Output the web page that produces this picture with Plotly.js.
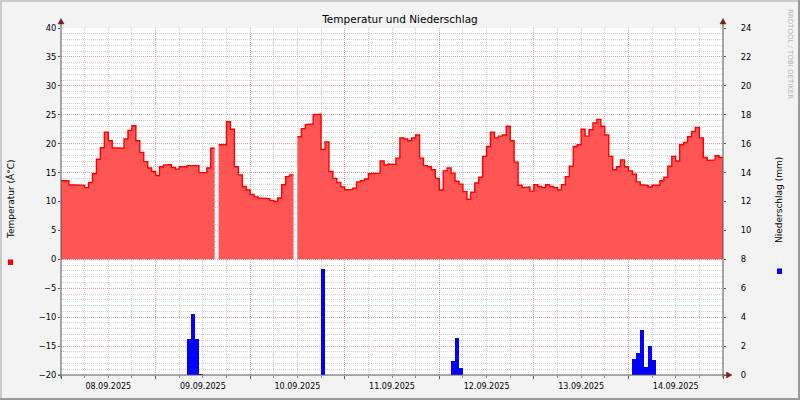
<!DOCTYPE html>
<html>
<head>
<meta charset="utf-8">
<script src="https://cdn.plot.ly/plotly-3.0.1.min.js"></script>
<style>html,body{margin:0;padding:0;background:#f3f3f3;}#chart{width:800px;height:400px;}</style>
</head>
<body>
<div id="chart"></div>
<script>
// ---- data (hourly temperature, °C; null = no data) ----
const startTime = '2025-09-08 00:00';
const temp_0809 = [13.6, 13.6, 12.9, 12.8, 12.8, 12.8, 12.4, 13.3, 14.8, 17.3, 19.3, 22.0, 20.5, 19.3, 19.3, 19.2, 20.8, 22.3, 23.1, 20.5, 18.5, 16.9, 15.8, 15.2];
const temp_0909 = [14.5, 16.0, 16.3, 16.4, 15.9, 15.6, 16.0, 16.0, 16.2, 16.2, 16.2, 15.0, 15.0, 15.8, 19.2, null, 19.8, 19.8, 23.8, 22.5, 16.0, 14.6, 12.6, 12.0];
const temp_1009 = [11.2, 10.8, 10.6, 10.5, 10.5, 10.2, 10.0, 10.6, 12.9, 14.3, 14.6, null, 21.2, 22.6, 23.3, 23.4, 25.0, 25.1, 19.0, 20.3, 15.2, 14.0, 13.3, 12.5];
const temp_1109 = [12.0, 12.1, 12.3, 13.4, 13.6, 13.9, 14.8, 14.8, 14.9, 17.0, 16.3, 16.5, 16.4, 17.5, 21.0, 20.8, 20.5, 21.0, 21.5, 17.5, 16.2, 16.0, 15.5, 14.0];
const temp_1209 = [12.0, 15.3, 15.8, 14.9, 13.5, 13.0, 11.7, 10.4, 11.6, 13.2, 14.2, 17.8, 19.5, 22.0, 21.0, 21.3, 21.5, 23.0, 20.5, 16.8, 12.8, 12.4, 12.5, 11.8];
const temp_1309 = [12.9, 12.6, 12.4, 12.9, 12.6, 12.4, 12.0, 12.9, 14.3, 16.1, 19.5, 19.8, 22.5, 21.3, 22.4, 23.6, 24.2, 23.0, 21.5, 17.8, 15.5, 16.0, 17.2, 16.0];
const temp_1409 = [15.3, 14.7, 13.4, 12.9, 12.8, 12.5, 12.8, 12.8, 13.6, 14.2, 16.1, 17.8, 17.0, 19.8, 20.2, 21.2, 22.1, 22.8, 21.0, 17.6, 17.1, 17.2, 17.9, 17.6];

// ---- data (hourly precipitation, mm; start of the hour) ----
const rainTimes = ['2025-09-09 08:00','2025-09-09 09:00','2025-09-09 10:00','2025-09-09 11:00',
                   '2025-09-10 18:00',
                   '2025-09-12 03:00','2025-09-12 04:00','2025-09-12 05:00',
                   '2025-09-14 01:00','2025-09-14 02:00','2025-09-14 03:00','2025-09-14 04:00','2025-09-14 05:00','2025-09-14 06:00'];
const rainValues = [2.5, 4.2, 2.5, 0.1,
                    7.3,
                    1.0, 2.55, 0.5,
                    1.1, 1.5, 3.1, 0.55, 2.0, 1.05];

const xTickFormat = '%d.%m.%Y';

// ---- build step series, split at gaps ----
const tempValues = [].concat(temp_0809, temp_0909, temp_1009, temp_1109, temp_1209, temp_1309, temp_1409);
const HOUR = 3600000;
const t0 = Date.UTC(2025, 8, 8, 0, 0);
function fmt(ms){
  const d = new Date(ms);
  const p = n => String(n).padStart(2,'0');
  return d.getUTCFullYear()+'-'+p(d.getUTCMonth()+1)+'-'+p(d.getUTCDate())+' '+p(d.getUTCHours())+':'+p(d.getUTCMinutes());
}
const segments = [];
let cur = null;
tempValues.forEach((v,i) => {
  if (v === null) { cur = null; return; }
  if (!cur) { cur = {x: [], y: []}; segments.push(cur); }
  cur.x.push(fmt(t0 + i*HOUR)); cur.y.push(v);
  cur.x.push(fmt(t0 + (i+1)*HOUR)); cur.y.push(v);
});

// ---- geometry helpers (pixel -> paper) ----
const L = 61, R = 723, T = 28, B = 375;
const px = x => (x - L) / (R - L);
const py = y => (B - y) / (B - T);

const FONT = 'DejaVu Sans';
const majorGrid = '#e6a3a3';
const minorGrid = '#cfcfcf';
const axisCol = '#555555';
const arrowCol = '#7a1c1c';

const traces = segments.map(s => ({
  type: 'scatter', mode: 'lines', x: s.x, y: s.y,
  fill: 'tozeroy', fillcolor: '#ff5555',
  line: {color: '#ff0000', width: 1.4, shape: 'linear'},
  hoverinfo: 'skip', showlegend: false
}));
traces.push({
  type: 'bar', x: rainTimes, y: rainValues, yaxis: 'y2',
  width: HOUR, offset: 0,
  marker: {color: '#0000ff', line: {width: 0}},
  hoverinfo: 'skip', showlegend: false
});

function rect(x0,y0,x1,y1,color){
  return {type:'rect', xref:'paper', yref:'paper', x0:px(x0), x1:px(x1), y0:py(y1), y1:py(y0),
          fillcolor:color, line:{width:0}, layer:'above'};
}
function line(x0,y0,x1,y1,color,w){
  return {type:'line', xref:'paper', yref:'paper', x0:px(x0), x1:px(x1), y0:py(y0), y1:py(y1),
          line:{color:color, width:w||1}, layer:'above'};
}
function tri(pts,color){
  const d = 'M ' + pts.map(p => px(p[0]) + ' ' + py(p[1])).join(' L ') + ' Z';
  return {type:'path', xref:'paper', yref:'paper', path:d, fillcolor:color, line:{color:color, width:0.5}, layer:'above'};
}

const shapes = [
  rect(0,0,800,2,'#cbcbcb'),
  rect(0,0,2,400,'#cbcbcb'),
  rect(0,398,800,400,'#9a9a9a'),
  rect(798,0,800,400,'#9a9a9a'),
  line(61,378,61,23,axisCol,1),
  line(723,378,723,23,axisCol,1),
  line(58,375,727,375,axisCol,1),
  tri([[61,18.5],[58,24],[64,24]], arrowCol),
  tri([[723,18.5],[720,24],[726,24]], arrowCol),
  tri([[732,375],[726.5,372],[726.5,378]], arrowCol),
  rect(8,259.5,13,265,'#ff0000'),
  rect(777,268.5,782,274,'#0000ff')
];

const annotations = [
  {xref:'paper', yref:'paper', x:px(10), y:py(199), text:'Temperatur (Â°C)', textangle:-90,
   showarrow:false, font:{family:FONT, size:9, color:'#000'}, xanchor:'center', yanchor:'middle'},
  {xref:'paper', yref:'paper', x:px(779), y:py(200), text:'Niederschlag (mm)', textangle:-90,
   showarrow:false, font:{family:FONT, size:9, color:'#000'}, xanchor:'center', yanchor:'middle'},
  {xref:'paper', yref:'paper', x:px(790), y:py(54), text:'RRDTOOL / TOBI OETIKER', textangle:90,
   showarrow:false, font:{family:FONT, size:7, color:'#b5b5b5'}, xanchor:'center', yanchor:'middle'}
];

const layout = {
  width: 800, height: 400,
  margin: {l: L, r: 800 - R, t: T, b: 400 - B, pad: 0},
  paper_bgcolor: '#f3f3f3', plot_bgcolor: '#ffffff',
  title: {text: 'Temperatur und Niederschlag', x: 0.5, xref: 'container', xanchor: 'center',
          y: 1 - 19/400, yref: 'container', yanchor: 'middle',
          font: {family: FONT, size: 10.5, color: '#000'}},
  xaxis: {
    type: 'date', range: ['2025-09-08 00:00', '2025-09-15 00:00'],
    tick0: '2025-09-08', dtick: 86400000, ticklabelmode: 'period', tickformat: xTickFormat,
    showgrid: true, gridcolor: majorGrid, griddash: '1px,1px', gridwidth: 1,
    ticks: 'outside', ticklen: 3, tickcolor: axisCol,
    minor: {dtick: 21600000, tick0: '2025-09-08', showgrid: true, gridcolor: minorGrid, griddash: '1px,1px',
            ticks: 'outside', ticklen: 2, tickcolor: '#888'},
    showline: false, zeroline: false, fixedrange: true,
    tickfont: {family: FONT, size: 8, color: '#000'}
  },
  yaxis: {
    range: [-20, 40], tick0: 0, dtick: 5,
    showgrid: true, gridcolor: majorGrid, griddash: '1px,1px',
    minor: {dtick: 1, tick0: 0, showgrid: true, gridcolor: minorGrid, griddash: '1px,1px'},
    ticks: 'outside', ticklen: 2, tickcolor: axisCol,
    showline: false, zeroline: false, fixedrange: true,
    tickfont: {family: FONT, size: 8.4, color: '#000'}
  },
  yaxis2: {
    range: [0, 24], tick0: 0, dtick: 2, overlaying: 'y', side: 'right',
    showgrid: false, zeroline: false, showline: false,
    ticks: 'outside', ticklen: 2, tickcolor: axisCol, ticklabelstandoff: 13,
    fixedrange: true,
    tickfont: {family: FONT, size: 8.4, color: '#000'}
  },
  bargap: 0,
  showlegend: false,
  shapes: shapes,
  annotations: annotations
};

Plotly.newPlot('chart', traces, layout, {displayModeBar: false, staticPlot: true});
</script>
</body>
</html>
